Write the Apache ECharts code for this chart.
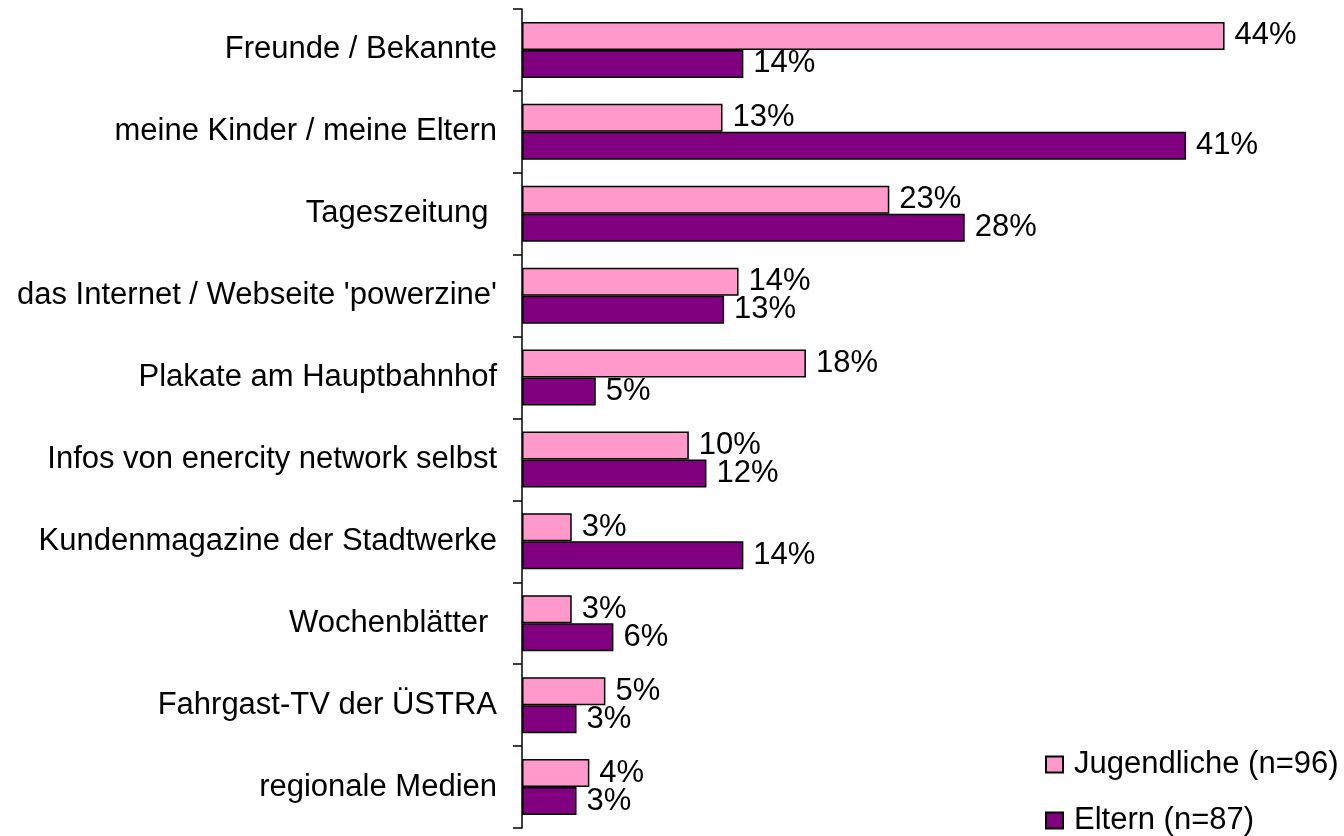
<!DOCTYPE html>
<html>
<head>
<meta charset="utf-8">
<title>Informationsquellen</title>
<script src="https://cdn.jsdelivr.net/npm/echarts@6/dist/echarts.min.js"></script>
<style>
    html, body { margin: 0; padding: 0; background: #fff; }
    #chart { width: 1344px; height: 836px; }
</style>
</head>
<body>
<div id="chart"></div>
<script>
// Kategorien (von oben nach unten)
var categories = [
    "Freunde / Bekannte",
    "meine Kinder / meine Eltern",
    "Tageszeitung ",
    "das Internet / Webseite 'powerzine'",
    "Plakate am Hauptbahnhof",
    "Infos von enercity network selbst",
    "Kundenmagazine der Stadtwerke",
    "Wochenblätter ",
    "Fahrgast-TV der ÜSTRA",
    "regionale Medien"
];
var seriesNames = ["Jugendliche (n=96)", "Eltern (n=87)"];
var jugendliche = [43.8, 12.5, 22.9, 13.5, 17.7, 10.4, 3.1, 3.1, 5.2, 4.2];
var eltern = [13.8, 41.4, 27.6, 12.6, 4.6, 11.5, 13.8, 5.7, 3.4, 3.4];

var font = "Arial, 'Liberation Sans', sans-serif";

var myChart = echarts.init(document.getElementById("chart"));

function barSeries(name, data, color) {
    return {
        name: name,
        type: "bar",
        data: data,
        barWidth: 28,
        barGap: "0%",
        itemStyle: {
            color: color,
            borderColor: "#000",
            borderWidth: 1.5
        },
        label: {
            show: true,
            position: "right",
            distance: 10,
            color: "#000",
            fontSize: 31,
            fontFamily: font,
            formatter: function (p) {
                return Math.round(p.value) + "%";
            }
        }
    };
}

var option = {
    backgroundColor: "#fff",
    animation: false,
    grid: {
        left: 522,
        right: 20,
        top: 9,
        bottom: 8
    },
    xAxis: {
        type: "value",
        min: 0,
        max: 50,
        show: false
    },
    yAxis: {
        type: "category",
        data: categories,
        inverse: true,
        axisLine: {
            show: true,
            lineStyle: { color: "#000", width: 1.5 }
        },
        axisTick: {
            show: true,
            length: 9,
            lineStyle: { color: "#000", width: 1.5 }
        },
        axisLabel: {
            color: "#000",
            fontSize: 31,
            fontFamily: font,
            margin: 25
        },
        splitLine: { show: false }
    },
    legend: {
        orient: "vertical",
        left: 1045,
        top: 749,
        height: 120,
        padding: 0,
        itemWidth: 17,
        itemHeight: 16,
        itemGap: 25,
        icon: "rect",
        textStyle: {
            color: "#000",
            fontSize: 31,
            fontFamily: font,
            lineHeight: 31,
            padding: [0, 0, 0, 6]
        },
        data: seriesNames
    },
    series: [
        barSeries(seriesNames[0], jugendliche, "#ff99cc"),
        barSeries(seriesNames[1], eltern, "#800080")
    ]
};

myChart.setOption(option);
</script>
</body>
</html>
